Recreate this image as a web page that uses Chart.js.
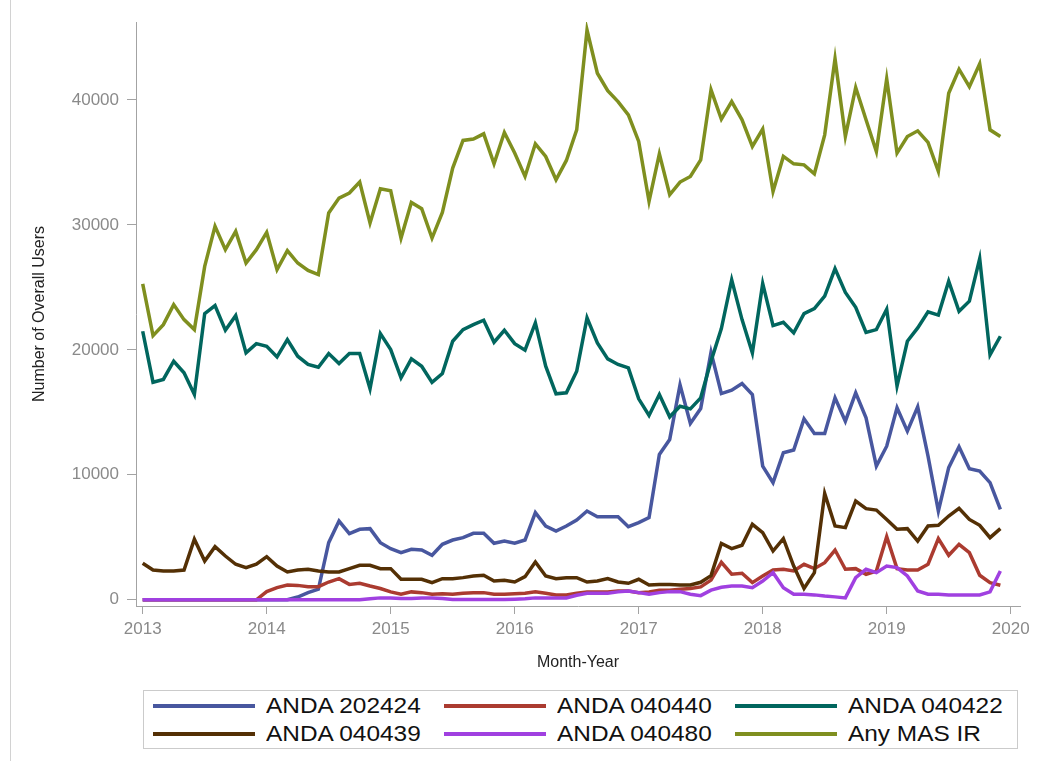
<!DOCTYPE html>
<html>
<head>
<meta charset="utf-8">
<script src="https://cdn.jsdelivr.net/npm/chart.js@4.4.1/dist/chart.umd.min.js"></script>
<style>
  body { margin: 0; background: #fff; }
  #wrap { position: relative; width: 1042px; height: 761px; overflow: hidden; }
  #frame { position: absolute; left: 10px; top: 0; width: 1px; height: 761px; background: #d2d2d2; }
  #chart { position: absolute; left: 0; top: 0; }
  #legend { position: absolute; left: 143px; top: 690px; width: 873px; height: 57px; border: 1px solid #cbcbcb; }
  .swatch { position: absolute; width: 102px; height: 4px; }
  .label { position: absolute; font-family: "Liberation Sans", Arial, sans-serif; font-size: 22px; color: #111;
           line-height: 26px; white-space: nowrap; transform: scaleX(1.11); transform-origin: left center; }
</style>
</head>
<body>
<div id="wrap">
  <div id="frame"></div>
  <canvas id="chart" width="1042" height="680"></canvas>
  <div id="legend"></div>
</div>
<script>
// monthly data, Jan 2013 .. Dec 2019
var years = [2013, 2014, 2015, 2016, 2017, 2018, 2019];
var xTicks = [2013, 2014, 2015, 2016, 2017, 2018, 2019, 2020];
var yTicks = [0, 10000, 20000, 30000, 40000];

var seriesNames = ["ANDA 202424", "ANDA 040440", "ANDA 040422", "ANDA 040439", "ANDA 040480", "Any MAS IR"];
var seriesColors = ["#48579f", "#ab3b30", "#01665e", "#543005", "#a040e0", "#7f8f1f"];

var anda202424 = [
  0, 0, 0, 0, 0, 0, 0, 0, 0, 0, 0, 0,
  0, 0, 0, 220, 570, 840, 4570, 6300, 5290, 5640, 5690, 4570,
  4090, 3770, 4040, 3980, 3560, 4440, 4780, 4970, 5320, 5320, 4520, 4700,
  4520, 4780, 6970, 5900, 5500, 5900, 6380, 7100, 6650, 6650, 6650, 5850,
  6170, 6570, 11630, 12830, 17200, 14110, 15300, 19800, 16500, 16770, 17310, 16430,
  10700, 9370, 11770, 11980, 14480, 13310, 13310, 16160, 14290, 16560, 14560, 10700,
  12290, 15360, 13490, 15440, 11490, 7100, 10570, 12240, 10490, 10300, 9370, 7230
];
var anda040440 = [
  0, 0, 0, 0, 0, 0, 0, 0, 0, 0, 0, 0,
  650, 970, 1180, 1150, 1050, 1050, 1420, 1690, 1230, 1320, 1100, 900,
  630, 440, 630, 570, 440, 490, 440, 520, 570, 570, 440, 440,
  490, 520, 630, 520, 390, 390, 520, 630, 630, 630, 700, 700,
  570, 630, 760, 760, 840, 900, 1030, 1570, 3000, 2040, 2120, 1370,
  1900, 2380, 2440, 2300, 2840, 2490, 2970, 3980, 2440, 2490, 2040, 2300,
  5050, 2490, 2380, 2380, 2840, 4890, 3560, 4440, 3770, 1960, 1370, 1160
];
var anda040422 = [
  21490, 17410, 17630, 19090, 18160, 16430, 22900, 23540, 21570, 22740, 19760, 20500,
  20290, 19440, 20820, 19490, 18830, 18610, 19700, 18900, 19700, 19700, 16880, 21300,
  20020, 17760, 19280, 18690, 17400, 18100, 20690, 21620, 22020, 22370, 20610, 21570,
  20500, 19970, 22160, 18690, 16480, 16560, 18290, 22560, 20560, 19280, 18830, 18560,
  16080, 14750, 16430, 14640, 15490, 15280, 16160, 19100, 21700, 25600, 22420, 19760,
  25300, 21940, 22210, 21360, 22900, 23300, 24300, 26500, 24600, 23400, 21400, 21620,
  23250, 17100, 20690, 21760, 23050, 22780, 25500, 23090, 23900, 27300, 19600, 21090
];
var anda040439 = [
  2920, 2380, 2300, 2300, 2380, 4840, 3100, 4250, 3500, 2840, 2570, 2840,
  3450, 2700, 2220, 2380, 2440, 2300, 2220, 2220, 2490, 2760, 2760, 2490,
  2490, 1640, 1640, 1640, 1370, 1690, 1690, 1770, 1900, 1960, 1500, 1560,
  1420, 1850, 3020, 1900, 1690, 1770, 1770, 1420, 1500, 1690, 1420, 1320,
  1640, 1180, 1230, 1230, 1180, 1180, 1400, 1930, 4500, 4090, 4360, 6040,
  5370, 3900, 4890, 2700, 900, 2170, 8500, 5900, 5770, 7900, 7290, 7180,
  6430, 5640, 5690, 4700, 5900, 5960, 6700, 7310, 6430, 5960, 4970, 5690
];
var anda040480 = [
  0, 0, 0, 0, 0, 0, 0, 0, 0, 0, 0, 0,
  0, 0, 0, 0, 0, 0, 0, 0, 0, 0, 80, 150,
  150, 100, 100, 150, 150, 100, 30, 30, 30, 30, 30, 30,
  50, 80, 150, 150, 150, 150, 360, 520, 520, 520, 630, 700,
  570, 440, 570, 650, 650, 440, 330, 770, 1000, 1100, 1100, 970,
  1500, 2170, 970, 440, 440, 390, 300, 230, 150, 1770, 2440, 2170,
  2700, 2570, 1900, 700, 440, 440, 390, 390, 390, 390, 630, 2300
];
var anyMasIr = [
  25280, 21140, 22020, 23620, 22420, 21620, 26680, 29880, 28020, 29480, 26950, 28020,
  29400, 26420, 27940, 26950, 26360, 26020, 30950, 32150, 32550, 33430, 30150, 32890,
  32730, 28950, 31800, 31300, 28950, 31000, 34550, 36760, 36870, 37290, 34890, 37400,
  35750, 33880, 36490, 35480, 33610, 35160, 37610, 45600, 42140, 40750, 39870, 38810,
  36680, 31880, 35690, 32410, 33430, 33880, 35200, 40810, 38460, 39870, 38410, 36280,
  37670, 32680, 35480, 34890, 34810, 34090, 37210, 43300, 37080, 41000, 38410, 35880,
  41700, 35750, 37080, 37530, 36600, 34280, 40540, 42460, 41070, 42900, 37610, 37080
];

var allSeries = [anda202424, anda040440, anda040422, anda040439, anda040480, anyMasIr];

// x position of each month on the year axis
var monthX = [];
for (var y = 0; y < years.length; y++) {
    for (var m = 0; m < 12; m++) {
        monthX.push(years[y] + m / 12);
    }
}

var fontFamily = '"Liberation Sans", Arial, sans-serif';
var axisColor = '#a3a3a3';
var tickColor = '#8a8a8a';

function makeChart() {
    var datasets = [];
    for (var i = 0; i < allSeries.length; i++) {
        var points = [];
        for (var j = 0; j < allSeries[i].length; j++) {
            points.push({x: monthX[j], y: allSeries[i][j]});
        }
        datasets.push({
            label: seriesNames[i],
            data: points,
            borderColor: seriesColors[i],
            backgroundColor: seriesColors[i],
            borderWidth: 3.5,
            pointRadius: 0,
            fill: false,
            tension: 0,
            order: allSeries.length - i
        });
    }

    new Chart(document.getElementById("chart"), {
        type: 'line',
        data: {datasets: datasets},
        options: {
            responsive: false,
            animation: false,
            layout: {padding: {top: 22, right: 22, left: 0, bottom: 0}},
            plugins: {legend: {display: false}, tooltip: {enabled: false}},
            scales: {
                x: {
                    type: 'linear',
                    min: 2012.946,
                    max: 2020.075,
                    afterBuildTicks: function (s) {
                        s.ticks = xTicks.map(function (v) { return {value: v}; });
                    },
                    afterFit: function (s) { s.height = 74; },
                    ticks: {
                        callback: function (v) { return String(v); },
                        color: tickColor,
                        font: {family: fontFamily, size: 17},
                        padding: 5,
                        maxRotation: 0,
                        autoSkip: false
                    },
                    grid: {drawOnChartArea: false, tickLength: 8, color: axisColor},
                    border: {color: axisColor},
                    title: {
                        display: true,
                        text: 'Month-Year',
                        color: '#222',
                        font: {family: fontFamily, size: 16},
                        padding: {top: 0, bottom: 8}
                    }
                },
                y: {
                    min: -500,
                    max: 46240,
                    afterBuildTicks: function (s) {
                        s.ticks = yTicks.map(function (v) { return {value: v}; });
                    },
                    afterFit: function (s) { s.width = 136; },
                    ticks: {
                        callback: function (v) { return String(v); },
                        color: tickColor,
                        font: {family: fontFamily, size: 17},
                        padding: 8
                    },
                    grid: {drawOnChartArea: false, tickLength: 9, color: axisColor},
                    border: {color: axisColor},
                    title: {
                        display: true,
                        text: 'Number of Overall Users',
                        color: '#222',
                        font: {family: fontFamily, size: 16},
                        padding: {top: 30, bottom: 0}
                    }
                }
            }
        }
    });
}

function makeLegend() {
    var box = document.getElementById("legend");
    for (var i = 0; i < seriesNames.length; i++) {
        var col = i % 3;
        var row = Math.floor(i / 3);
        var x = 9 + col * 290.8;
        var yc = 15 + row * 27.7;
        var sw = document.createElement("div");
        sw.className = "swatch";
        sw.style.left = x + "px";
        sw.style.top = (yc - 2) + "px";
        sw.style.background = seriesColors[i];
        box.appendChild(sw);
        var lb = document.createElement("div");
        lb.className = "label";
        lb.style.left = (x + 113) + "px";
        lb.style.top = (yc - 13) + "px";
        lb.textContent = seriesNames[i];
        box.appendChild(lb);
    }
}

document.addEventListener('DOMContentLoaded', function () {
    makeChart();
    makeLegend();
});
</script>
</body>
</html>
